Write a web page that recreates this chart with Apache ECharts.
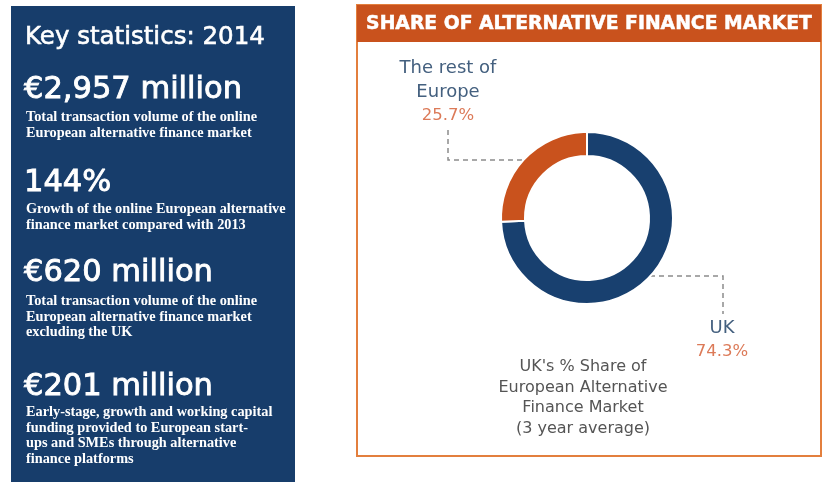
<!DOCTYPE html>
<html>
<head>
<meta charset="utf-8">
<script src="https://cdn.jsdelivr.net/npm/echarts@6/dist/echarts.min.js"></script>
<style>
html,body{margin:0;padding:0;background:#fff;}
#chart{width:839px;height:495px;}
</style>
</head>
<body>
<div id="chart"></div>
<script>
// ---- data ----
const categories = ['UK', 'The rest of Europe'];
const shares = [74.3, 25.7];
const labelNames = ['UK', 'The rest of\nEurope'];
const chartTitle = 'SHARE OF ALTERNATIVE FINANCE MARKET';
const chartCaption = "UK's % Share of\nEuropean Alternative\nFinance Market\n(3 year average)";
const panelHeading = 'Key statistics: 2014';
const statValues = ['€2,957 million', '144%', '€620 million', '€201 million'];
const statDescriptions = [
  'Total transaction volume of the online\nEuropean alternative finance market',
  'Growth of the online European alternative\nfinance market compared with 2013',
  'Total transaction volume of the online\nEuropean alternative finance market\nexcluding the UK',
  'Early-stage, growth and working capital\nfunding provided to European start-\nups and SMEs through alternative\nfinance platforms'
];

// ---- styles ----
const NAVY = '#173d6b';
const ORANGE = '#c9521d';
const sliceColors = ['#18406f', '#c9521d'];
const statValueY = [90, 183, 273, 387];
const statDescY = [110, 202, 294, 405];

const chart = echarts.init(document.getElementById('chart'), null, {renderer: 'canvas'});

const graphics = [
  {type: 'rect', shape: {x: 11, y: 6, width: 284, height: 476}, style: {fill: NAVY}, z: 0},
  {type: 'text', x: 25, y: 38, style: {text: panelHeading, fill: '#fff', stroke: '#fff', lineWidth: 0.6, font: '24.5px "DejaVu Sans"', verticalAlign: 'middle'}},
  {type: 'rect', shape: {x: 357, y: 5, width: 464, height: 451}, style: {fill: 'none', stroke: '#e37f3d', lineWidth: 2}},
  {type: 'rect', shape: {x: 357, y: 5, width: 464, height: 37}, style: {fill: ORANGE}},
  {type: 'text', x: 589, y: 24, style: {text: chartTitle, fill: '#fff', stroke: '#fff', lineWidth: 0.5, font: 'bold 18.8px "DejaVu Sans"', align: 'center', verticalAlign: 'middle'}},
  {type: 'text', x: 583, y: 398, style: {text: chartCaption, fill: '#555', font: '16px "DejaVu Sans"', align: 'center', verticalAlign: 'middle', lineHeight: 20.5}}
];
statValues.forEach(function (v, i) {
  graphics.push({type: 'text', x: 24, y: statValueY[i], style: {text: v, fill: '#fff', stroke: '#fff', lineWidth: 0.9, font: '30.5px "DejaVu Sans"', verticalAlign: 'middle'}});
  graphics.push({type: 'text', x: 26, y: statDescY[i], style: {text: statDescriptions[i], fill: '#fff', font: 'bold 14.3px "Liberation Serif"', verticalAlign: 'top', lineHeight: 15.5}});
});

const labelPos = [
  {x: 722, y: 340, pts: [[632, 276], [723, 276], [723, 314]]},
  {x: 448, y: 92, pts: [[540, 160], [448, 160], [448, 129]]}
];

chart.setOption({
  animation: false,
  graphic: graphics,
  series: [{
    type: 'pie',
    center: [587, 218],
    radius: [62, 86],
    startAngle: 90,
    clockwise: true,
    silent: true,
    itemStyle: {borderColor: '#fff', borderWidth: 2},
    label: {
      show: true,
      position: 'outside',
      formatter: function (p) { return '{n|' + labelNames[p.dataIndex].split('\n').join('}\n{n|') + '}\n{p|' + p.value + '%}'; },
      rich: {
        n: {color: '#44607f', fontSize: 18, lineHeight: 24, fontFamily: 'DejaVu Sans'},
        p: {color: '#dc7a58', fontSize: 16.5, lineHeight: 24, fontFamily: 'DejaVu Sans'}
      },
      align: 'center'
    },
    labelLine: {show: true, lineStyle: {type: [5, 4], color: '#8c8c8c', width: 1.5}},
    labelLayout: function (params) {
      const lp = labelPos[params.dataIndex];
      return {x: lp.x, y: lp.y, align: 'center', verticalAlign: 'middle', labelLinePoints: lp.pts};
    },
    data: categories.map(function (c, i) {
      return {name: c, value: shares[i], itemStyle: {color: sliceColors[i]}};
    })
  }]
});
</script>
</body>
</html>
